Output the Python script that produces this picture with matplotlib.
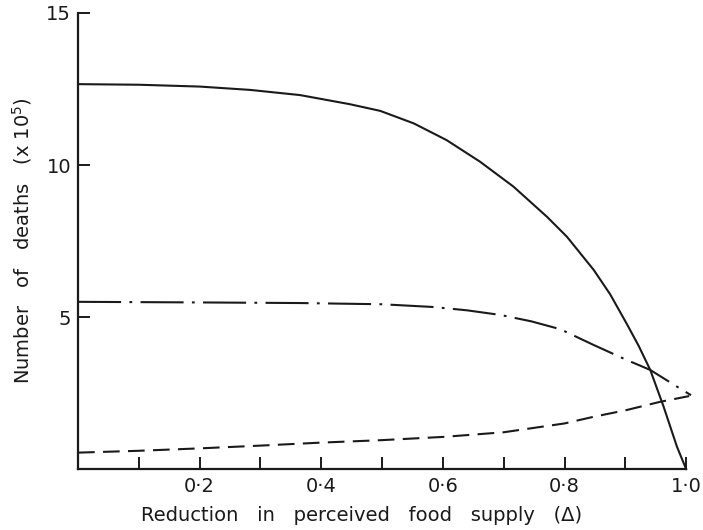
import matplotlib
matplotlib.use("Agg")
import matplotlib.pyplot as plt

plt.rcParams["font.family"] = ["DejaVu Sans"]
plt.rcParams["lines.scale_dashes"] = False

# Values (x = reduction in perceived food supply, y = deaths x 10^5)
solid_x = [0.0, 0.10, 0.20, 0.283, 0.365, 0.447, 0.497, 0.552, 0.606, 0.661, 0.716,
           0.771, 0.804, 0.848, 0.875, 0.902, 0.922, 0.941, 0.963, 0.985, 1.0]
solid_y = [12.66, 12.64, 12.58, 12.47, 12.30, 12.00, 11.78, 11.37, 10.82, 10.11, 9.29,
           8.30, 7.64, 6.55, 5.75, 4.79, 4.05, 3.26, 2.05, 0.73, 0.0]

dashdot_x = [0.0, 0.10, 0.20, 0.365, 0.50, 0.584, 0.640, 0.694, 0.745, 0.793, 0.848,
             0.902, 0.941, 0.985, 1.008]
dashdot_y = [5.50, 5.49, 5.48, 5.46, 5.42, 5.33, 5.22, 5.07, 4.86, 4.60, 4.08,
             3.59, 3.26, 2.71, 2.43]

dashed_x = [0.0, 0.099, 0.20, 0.299, 0.40, 0.499, 0.603, 0.70, 0.80, 0.848, 0.902, 0.957, 1.005]
dashed_y = [0.54, 0.60, 0.68, 0.77, 0.87, 0.95, 1.06, 1.21, 1.50, 1.72, 1.94, 2.21, 2.40]

x_ticks = [0.1, 0.2, 0.3, 0.4, 0.5, 0.6, 0.7, 0.8, 0.9, 1.0]
x_tick_labels = ["", "0·2", "", "0·4", "", "0·6", "", "0·8", "", "1·0"]
y_ticks = [5, 10, 15]
y_tick_labels = ["5", "10", "15"]

ink = "#1a1a1a"

fig = plt.figure(figsize=(7.03, 5.30), dpi=100)
ax = fig.add_axes([0.111, 0.115, 0.865, 0.8605])

ax.plot(solid_x, solid_y, color=ink, lw=1.5, clip_on=False)
ax.plot(dashdot_x, dashdot_y, color=ink, lw=1.5, dashes=(31, 6, 2, 6), clip_on=False)
ax.plot(dashed_x, dashed_y, color=ink, lw=1.5, dashes=(12, 6), clip_on=False)

ax.set_xlim(0, 1.0)
ax.set_ylim(0, 15)

ax.spines["top"].set_visible(False)
ax.spines["right"].set_visible(False)
for side in ("left", "bottom"):
    ax.spines[side].set_linewidth(1.6)
    ax.spines[side].set_color(ink)

ax.set_xticks(x_ticks)
ax.set_xticklabels(x_tick_labels)
ax.set_yticks(y_ticks)
ax.set_yticklabels(y_tick_labels)
ax.tick_params(direction="in", length=8.5, width=1.4, color=ink,
               labelsize=14, labelcolor=ink)
ax.tick_params(axis="x", pad=6)
ax.tick_params(axis="y", pad=5)

ax.set_xlabel("Reduction   in   perceived   food   supply   (Δ)", fontsize=14, color=ink)
ax.set_ylabel("Number   of   deaths   (x 10$^5$)", fontsize=14, color=ink)
# label positions in axes fractions (xlabel sits a little left of centre in the original)
ax.xaxis.set_label_coords(0.466, -0.082)
ax.yaxis.set_label_coords(-0.072, 0.5)

fig.savefig("out.png", dpi=100)
